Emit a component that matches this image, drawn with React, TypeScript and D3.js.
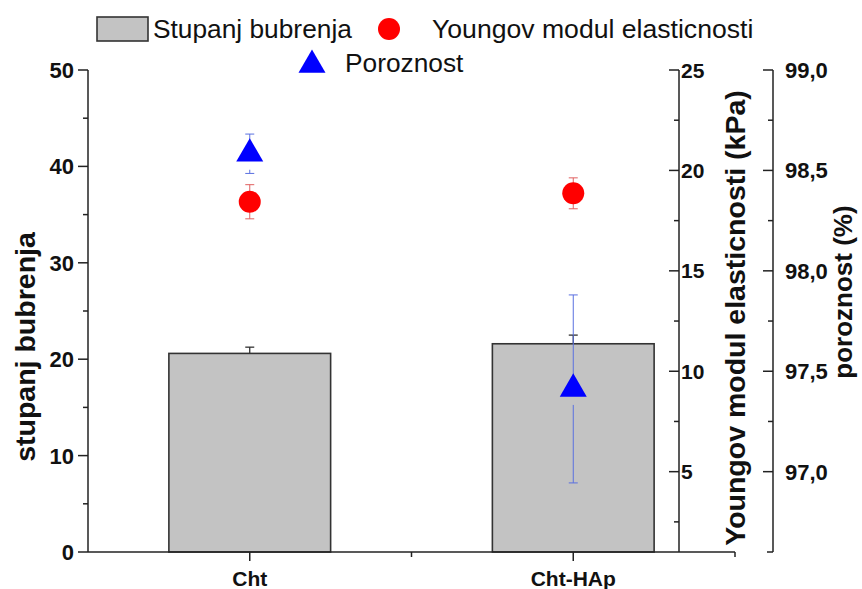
import React from "react";
import * as d3 from "d3";

const categories = ["Cht", "Cht-HAp"];
const swelling = [20.6, 21.6];
const swellingErr = [0.65, 0.9];
const young = [18.44, 18.86];
const youngErr = [0.85, 0.77];
const porosity = [98.583, 97.412];
const porosityErr = [0.098, 0.468];

const leftTicks = [0, 10, 20, 30, 40, 50];
const youngTicks = [5, 10, 15, 20, 25];
const poroTicks = [97.0, 97.5, 98.0, 98.5, 99.0];

const W = 862;
const H = 589;
const X0 = 88;
const X1 = 735;
const YTOP = 70;
const YBOT = 552;
const XY = 679;
const XP = 773;

export default function App() {
  const x = d3.scaleLinear().domain([0.5, 2.5]).range([X0, X1]);
  const yL = d3.scaleLinear().domain([0, 50]).range([YBOT, YTOP]);
  const yY = d3.scaleLinear().domain([1, 25]).range([YBOT, YTOP]);
  const yP = d3.scaleLinear().domain([96.6, 99.0]).range([YBOT, YTOP]);
  const barW = x(1.5) - x(1);
  const tri = d3.symbol().type(d3.symbolTriangle).size(316)();
  const triLegend = d3.symbol().type(d3.symbolTriangle).size(316)();
  const bold = { fontFamily: "Liberation Sans, Arial, sans-serif", fontWeight: 700 as const };
  const reg = { fontFamily: "Liberation Sans, Arial, sans-serif" };
  const leftMinor = d3.range(5, 50, 10);
  const youngMinor = [2.5, 7.5, 12.5, 17.5, 22.5];
  const poroMinor = [97.25, 97.75, 98.25, 98.75];
  const cap = 4.5;

  return (
    <svg width={W} height={H} style={{ position: "absolute", left: 0, top: 0, background: "#fff" }}>
      {/* bars */}
      {categories.map((c, i) => (
        <g key={c}>
          <line x1={x(i + 1)} x2={x(i + 1)} y1={yL(swelling[i])} y2={yL(swelling[i] + swellingErr[i])} stroke="#222" strokeWidth={1.2} />
          <line x1={x(i + 1) - cap} x2={x(i + 1) + cap} y1={yL(swelling[i] + swellingErr[i])} y2={yL(swelling[i] + swellingErr[i])} stroke="#222" strokeWidth={1.2} />
          <rect x={x(i + 1) - barW / 2} y={yL(swelling[i])} width={barW} height={YBOT - yL(swelling[i])} fill="#c3c3c3" stroke="#333" strokeWidth={1.6} />
        </g>
      ))}
      {/* young circles */}
      {categories.map((c, i) => {
        const cx = x(i + 1);
        const t = yY(young[i] + youngErr[i]);
        const b = yY(young[i] - youngErr[i]);
        return (
          <g key={"y" + c}>
            <line x1={cx} x2={cx} y1={t} y2={b} stroke="#e06060" strokeWidth={1} />
            <line x1={cx - cap} x2={cx + cap} y1={t} y2={t} stroke="#e06060" strokeWidth={1} />
            <line x1={cx - cap} x2={cx + cap} y1={b} y2={b} stroke="#e06060" strokeWidth={1} />
            <circle cx={cx} cy={yY(young[i])} r={11} fill="#ff0000" />
          </g>
        );
      })}
      {/* porosity triangles */}
      {categories.map((c, i) => {
        const cx = x(i + 1);
        const cy = yP(porosity[i]);
        const t = yP(porosity[i] + porosityErr[i]);
        const b = yP(porosity[i] - porosityErr[i]);
        return (
          <g key={"p" + c}>
            <line x1={cx} x2={cx} y1={t} y2={cy - 10} stroke="#5a70e0" strokeWidth={1} />
            <line x1={cx} x2={cx} y1={Math.min(cy + 16, b)} y2={b} stroke="#5a70e0" strokeWidth={1} />
            <line x1={cx - cap} x2={cx + cap} y1={t} y2={t} stroke="#5a70e0" strokeWidth={1} />
            <line x1={cx - cap} x2={cx + cap} y1={b} y2={b} stroke="#5a70e0" strokeWidth={1} />
            <path d={tri!} transform={`translate(${cx},${cy})`} fill="#0000ff" />
          </g>
        );
      })}

      {/* bottom axis */}
      <line x1={X0} x2={X1} y1={YBOT} y2={YBOT} stroke="#222" strokeWidth={1.5} />
      {[1, 2].map((v) => (
        <line key={"bt" + v} x1={x(v)} x2={x(v)} y1={YBOT} y2={YBOT + 9} stroke="#222" strokeWidth={1.5} />
      ))}
      {[1.5, 2.5].map((v) => (
        <line key={"bm" + v} x1={x(v)} x2={x(v)} y1={YBOT} y2={YBOT + 5} stroke="#222" strokeWidth={1.5} />
      ))}
      {categories.map((c, i) => (
        <text key={"bl" + c} x={x(i + 1)} y={586} textAnchor="middle" fontSize={21} {...bold} fill="#111">
          {c}
        </text>
      ))}

      {/* left axis */}
      <line x1={X0} x2={X0} y1={YTOP} y2={YBOT} stroke="#222" strokeWidth={1.5} />
      {leftTicks.map((v) => (
        <g key={"lt" + v}>
          <line x1={X0 - 10} x2={X0} y1={yL(v)} y2={yL(v)} stroke="#222" strokeWidth={1.5} />
          <text x={X0 - 14} y={yL(v)} dy="0.36em" textAnchor="end" fontSize={22} {...bold} fill="#111">
            {v}
          </text>
        </g>
      ))}
      {leftMinor.map((v) => (
        <line key={"lm" + v} x1={X0 - 5} x2={X0} y1={yL(v)} y2={yL(v)} stroke="#222" strokeWidth={1.5} />
      ))}
      <text transform={`translate(35,${(YTOP + YBOT) / 2 + 36}) rotate(-90)`} textAnchor="middle" fontSize={28.5} {...bold} fill="#111">
        stupanj bubrenja
      </text>

      {/* young axis */}
      <line x1={XY} x2={XY} y1={YTOP} y2={YBOT} stroke="#222" strokeWidth={1.5} />
      {youngTicks.map((v) => (
        <g key={"yt" + v}>
          <line x1={XY - 10} x2={XY} y1={yY(v)} y2={yY(v)} stroke="#222" strokeWidth={1.5} />
          <text x={XY + 2} y={yY(v)} dy="0.36em" textAnchor="start" fontSize={21} {...bold} fill="#111">
            {v}
          </text>
        </g>
      ))}
      {youngMinor.map((v) => (
        <line key={"ym" + v} x1={XY - 5} x2={XY} y1={yY(v)} y2={yY(v)} stroke="#222" strokeWidth={1.5} />
      ))}
      <text transform={`translate(745,318) rotate(-90)`} textAnchor="middle" fontSize={28.5} {...bold} fill="#111">
        Youngov modul elasticnosti (kPa)
      </text>

      {/* porosity axis */}
      <line x1={XP} x2={XP} y1={YTOP} y2={YBOT} stroke="#222" strokeWidth={1.5} />
      {poroTicks.map((v) => (
        <g key={"pt" + v}>
          <line x1={XP - 10} x2={XP} y1={yP(v)} y2={yP(v)} stroke="#222" strokeWidth={1.5} />
          <text x={XP + 12} y={yP(v)} dy="0.36em" textAnchor="start" fontSize={22} {...bold} fill="#111">
            {v.toFixed(1).replace(".", ",")}
          </text>
        </g>
      ))}
      {poroMinor.map((v) => (
        <line key={"pm" + v} x1={XP - 5} x2={XP} y1={yP(v)} y2={yP(v)} stroke="#222" strokeWidth={1.5} />
      ))}
      <line x1={XP - 6} x2={XP} y1={YBOT} y2={YBOT} stroke="#222" strokeWidth={1.5} />
      <text transform={`translate(852,292) rotate(-90)`} textAnchor="middle" fontSize={26} {...bold} fill="#111">
        poroznost (%)
      </text>

      {/* legend */}
      <rect x={97} y={17} width={51} height={24} fill="#c3c3c3" stroke="#333" strokeWidth={1.6} />
      <text x={153} y={38} fontSize={26.3} {...reg} fill="#111">
        Stupanj bubrenja
      </text>
      <circle cx={389} cy={29} r={11} fill="#ff0000" />
      <text x={432} y={38} fontSize={26.6} {...reg} fill="#111">
        Youngov modul elasticnosti
      </text>
      <path d={triLegend!} transform="translate(312,65)" fill="#0000ff" />
      <text x={345} y={72} fontSize={26.3} {...reg} fill="#111">
        Poroznost
      </text>
    </svg>
  );
}
